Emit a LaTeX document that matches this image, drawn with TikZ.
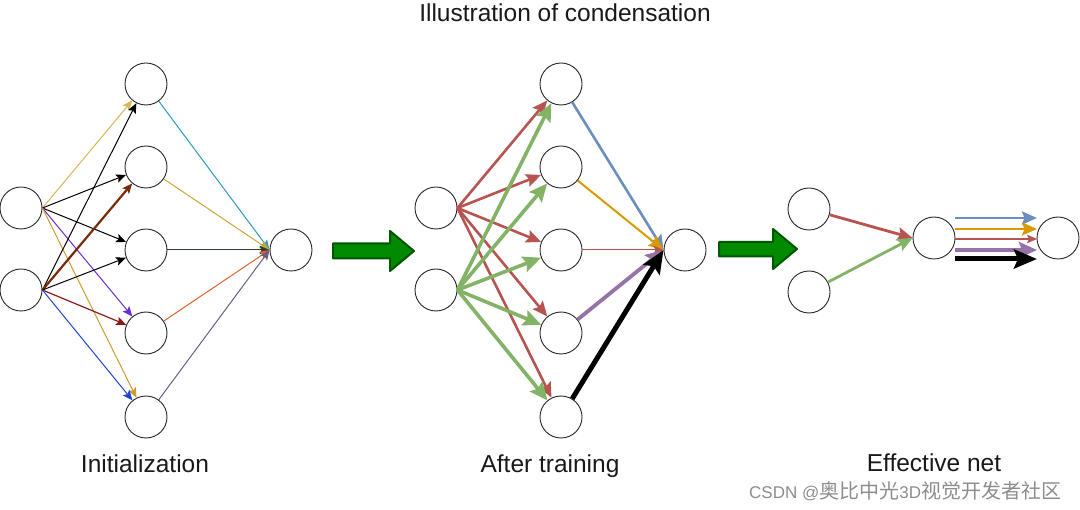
\documentclass[tikz,border=0pt]{standalone}
\usepackage{fontspec}
\setmainfont{Liberation Sans}
\newfontfamily\cjk{Noto Sans CJK SC}
\usetikzlibrary{arrows.meta}
\definecolor{dred}{HTML}{B85450}
\definecolor{dgreen}{HTML}{82B366}
\definecolor{dblue}{HTML}{6C8EBF}
\definecolor{dorange}{HTML}{D79B00}
\definecolor{dpurple}{HTML}{9673A6}
\definecolor{ayellow}{HTML}{D6B656}
\definecolor{aviolet}{HTML}{6A2BD0}
\definecolor{atan}{HTML}{D09A30}
\definecolor{abrown}{HTML}{7A2A0A}
\definecolor{amaroon}{HTML}{8B1A1A}
\definecolor{ablue}{HTML}{1F45D0}
\definecolor{ateal}{HTML}{2C9AC0}
\definecolor{aolive}{HTML}{C8A838}
\definecolor{adark}{HTML}{2D3F36}
\definecolor{aorange}{HTML}{E06030}
\definecolor{agrape}{HTML}{6D5C82}
\definecolor{bigfill}{HTML}{008A00}
\definecolor{bigdraw}{HTML}{005700}
\definecolor{wmark}{HTML}{8C8C8C}
\begin{document}
\begin{tikzpicture}[x=1pt,y=-1pt,
  neuron/.style={circle,draw=black!85,line width=0.9pt,minimum size=42pt,inner sep=0pt},
  tipa/.style={-{Stealth[length=10pt,width=8.5pt,inset=2pt]}},
  tipb/.style={-{Stealth[length=15pt,width=13pt,inset=2.5pt]}},
  tipc/.style={-{Stealth[length=18pt,width=16pt,inset=3pt]}},
  tipd/.style={-{Stealth[length=23pt,width=19pt,inset=4pt]}},
  label/.style={anchor=base,inner sep=0pt,font=\fontsize{24.5}{28}\selectfont,text=black!90},
  bigarrow/.style={fill=bigfill,draw=bigdraw,line width=2pt,line join=round}
]
\useasboundingbox (0,0) rectangle (1080,510);

% ---------- Left network: initialization ----------
\node[neuron] (a1) at (21,208) {};
\node[neuron] (a2) at (21,290) {};
\foreach \i/\y in {1/84,2/167,3/250,4/333,5/417}
  \node[neuron] (ah\i) at (146,\y) {};
\node[neuron] (ao) at (291,250) {};

\draw[tipa,ayellow,line width=1pt] (a1.east) -- (ah1);
\draw[tipa,black,line width=1pt] (a1.east) -- (ah2);
\draw[tipa,black,line width=1pt] (a1.east) -- (ah3);
\draw[tipa,aviolet,line width=1pt] (a1.east) -- (ah4);
\draw[tipa,atan,line width=1pt] (a1.east) -- (ah5);
\draw[tipa,black,line width=1pt] (a2.east) -- (ah1);
\draw[tipa,abrown,line width=2.2pt] (a2.east) -- (ah2);
\draw[tipa,black,line width=1pt] (a2.east) -- (ah3);
\draw[tipa,amaroon,line width=1.2pt] (a2.east) -- (ah4);
\draw[tipa,ablue,line width=1pt] (a2.east) -- (ah5);

\draw[tipa,ateal,line width=1pt] (ah1) -- (ao.west);
\draw[tipa,aolive,line width=1pt] (ah2) -- (ao.west);
\draw[tipa,adark,line width=1pt] (ah3) -- (ao.west);
\draw[tipa,aorange,line width=1pt] (ah4) -- (ao.west);
\draw[tipa,agrape,line width=1pt] (ah5) -- (ao.west);

% ---------- Middle network: after training ----------
\node[neuron] (b1) at (436,208) {};
\node[neuron] (b2) at (436,290) {};
\foreach \i/\y in {1/84,2/167,3/250,4/333,5/417}
  \node[neuron] (bh\i) at (561,\y) {};
\node[neuron] (bo) at (685,250) {};

\foreach \i in {1,...,5}
  \draw[tipb,dred,line width=2.6pt] (b1.east) -- (bh\i);
\foreach \i in {1,...,5}
  \draw[tipc,dgreen,line width=3.6pt] (b2.east) -- (bh\i);

\draw[tipb,dblue,line width=2.6pt] (bh1) -- (bo.west);
\draw[tipb,dorange,line width=2pt] (bh2) -- (bo.west);
\draw[tipa,dred,line width=1pt] (bh3) -- (bo.west);
\draw[tipc,dpurple,line width=3.8pt] (bh4) -- (bo.west);
\draw[tipd,black,line width=5pt] (bh5) -- (bo.west);

% ---------- Right network: effective net ----------
\node[neuron] (c1) at (809,209) {};
\node[neuron] (c2) at (809,292) {};
\node[neuron] (cm) at (934,238) {};
\node[neuron] (co) at (1058,238) {};

\draw[tipb,dred,line width=2.8pt] (c1) -- (cm.west);
\draw[tipb,dgreen,line width=2.8pt] (c2) -- (cm.west);

\coordinate (p1s) at (955,218); \coordinate (p1e) at (1037,218);
\coordinate (p2s) at (955,229); \coordinate (p2e) at (1037,229);
\coordinate (p3s) at (955,239); \coordinate (p3e) at (1037,239);
\coordinate (p4s) at (955,250); \coordinate (p4e) at (1037,250);
\coordinate (p5s) at (955,259); \coordinate (p5e) at (1037,259);
\draw[tipb,dblue,line width=2.8pt] (p1s) -- (p1e);
\draw[tipb,dorange,line width=2.8pt] (p2s) -- (p2e);
\draw[tipa,dred,line width=1.4pt] (p3s) -- (p3e);
\draw[tipc,dpurple,line width=3.8pt] (p4s) -- (p4e);
\draw[tipd,black,line width=5pt] (p5s) -- (p5e);

% ---------- Big green arrows ----------
\draw[bigarrow] (333,243.5) -- (390,243.5) -- (390,231) -- (414,251) -- (390,271) -- (390,258.5) -- (333,258.5) -- cycle;
\draw[bigarrow] (719,242) -- (773,242) -- (773,229) -- (797,249) -- (773,269) -- (773,256.5) -- (719,256.5) -- cycle;

% ---------- Texts ----------
\node[label] (title) at (565,22) {Illustration of condensation};
\node[label] (t1) at (145,473) {Initialization};
\node[label] (t2) at (550,473) {After training};
\node[label] (t3) at (934,472) {Effective net};
\node[anchor=base west,inner sep=0pt,text=wmark] (wm) at (749,499)
  {\fontsize{17}{20}\selectfont CSDN @{\cjk\fontsize{20}{22}\selectfont 奥比中光}3D{\cjk\fontsize{20}{22}\selectfont 视觉开发者社区}};
\end{tikzpicture}
\end{document}
